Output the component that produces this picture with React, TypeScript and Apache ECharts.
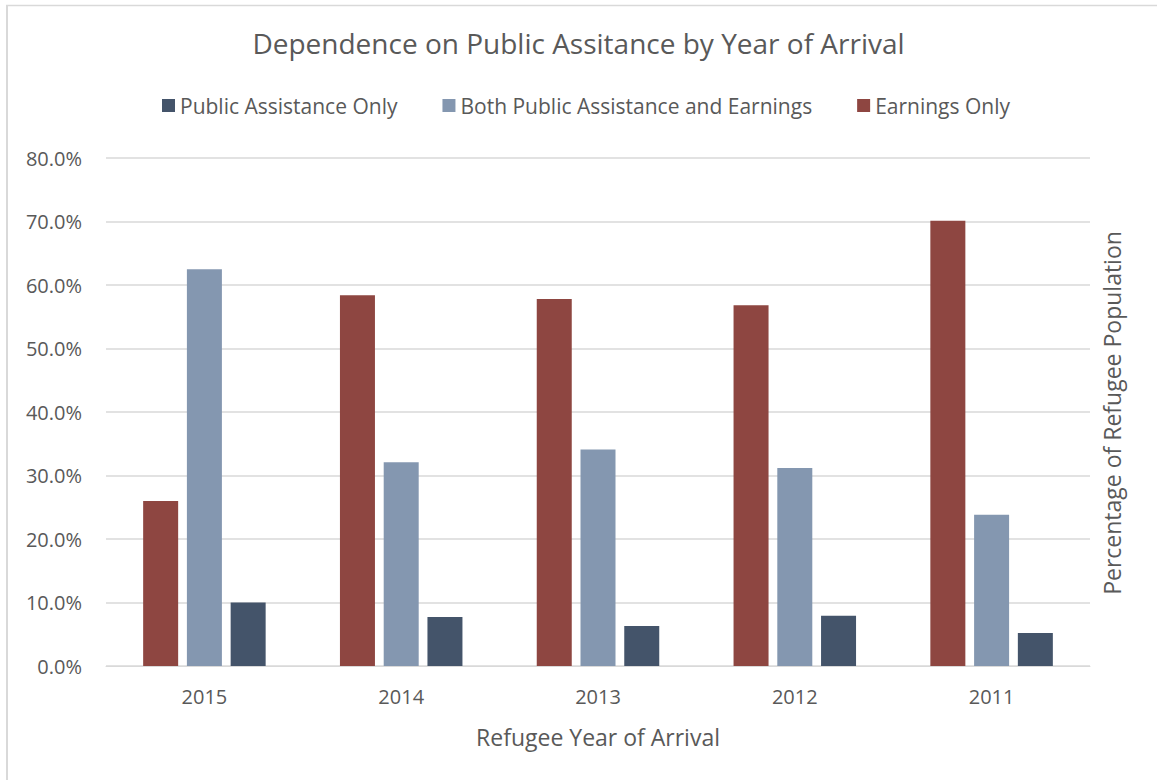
import React, { useEffect, useRef } from "react";
import * as echarts from "echarts";

const categories = ["2015", "2014", "2013", "2012", "2011"];
const earningsOnly = [26.0, 58.4, 57.8, 56.8, 70.1];
const bothAssistanceEarnings = [62.5, 32.1, 34.1, 31.2, 23.8];
const publicAssistanceOnly = [10.0, 7.7, 6.3, 7.9, 5.2];
const legendOrder = ["Public Assistance Only", "Both Public Assistance and Earnings", "Earnings Only"];

const FONT = "Open Sans";
const TXT = "#595959";

export default function App() {
  const ref = useRef<HTMLDivElement>(null);
  useEffect(() => {
    if (!ref.current) return;
    const chart = echarts.init(ref.current, null, { renderer: "svg" });
    chart.setOption({
      animation: false,
      backgroundColor: "#ffffff",
      textStyle: { fontFamily: FONT },
      title: {
        text: "Dependence on Public Assitance by Year of Arrival",
        left: "center",
        top: 24,
        textStyle: { fontFamily: FONT, fontSize: 28, fontWeight: "normal", color: TXT },
      },
      legend: {
        data: legendOrder,
        top: 90,
        left: 157,
        itemWidth: 13,
        itemHeight: 13,
        itemGap: 45,
        icon: "rect",
        textStyle: { fontFamily: FONT, fontSize: 21, color: TXT },
      },
      grid: { left: 106, right: 67, top: 158, bottom: 114, containLabel: false },
      xAxis: {
        type: "category",
        data: categories,
        axisLine: { lineStyle: { color: "#d9d9d9", width: 1 } },
        axisTick: { show: false },
        axisLabel: { fontFamily: FONT, fontSize: 20, color: TXT, margin: 20 },
        name: "Refugee Year of Arrival",
        nameLocation: "middle",
        nameGap: 59,
        nameTextStyle: { fontFamily: FONT, fontSize: 23, color: TXT },
      },
      yAxis: {
        type: "value",
        min: 0,
        max: 80,
        interval: 10,
        axisLine: { show: false },
        axisTick: { show: false },
        splitLine: { lineStyle: { color: "#d9d9d9", width: 1.5 } },
        axisLabel: {
          fontFamily: FONT,
          fontSize: 20,
          color: TXT,
          margin: 24,
          formatter: (v: number) => v.toFixed(1) + "%",
        },
      },
      series: [
        {
          name: "Earnings Only",
          type: "bar",
          data: earningsOnly,
          barWidth: 35,
          barGap: "25%",
          itemStyle: { color: "#8E4641" },
        },
        {
          name: "Both Public Assistance and Earnings",
          type: "bar",
          data: bothAssistanceEarnings,
          barWidth: 35,
          barGap: "25%",
          itemStyle: { color: "#8497B0" },
        },
        {
          name: "Public Assistance Only",
          type: "bar",
          data: publicAssistanceOnly,
          barWidth: 35,
          barGap: "25%",
          itemStyle: { color: "#44546A" },
        },
      ],
      graphic: [
        {
          type: "line",
          shape: { x1: 6, y1: 5.5, x2: 1157, y2: 5.5 },
          style: { stroke: "#d9d9d9", lineWidth: 1.5 },
        },
        {
          type: "line",
          shape: { x1: 7, y1: 5, x2: 7, y2: 780 },
          style: { stroke: "#d9d9d9", lineWidth: 2 },
        },
        {
          type: "text",
          x: 1112,
          y: 413,
          rotation: Math.PI / 2,
          style: {
            text: "Percentage of Refugee Population",
            fontFamily: FONT,
            fontSize: 23,
            fill: TXT,
            align: "center",
            verticalAlign: "middle",
          },
        },
      ],
    });
    return () => chart.dispose();
  }, []);
  return (
    <div
      ref={ref}
      style={{ position: "fixed", left: 0, top: 0, width: 1157, height: 780 }}
    />
  );
}
